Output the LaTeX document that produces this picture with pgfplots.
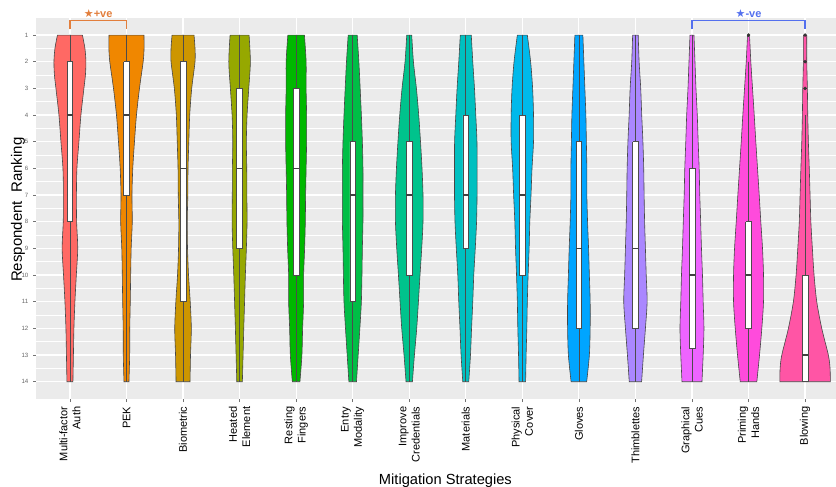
\documentclass[border=0pt]{standalone}
\usepackage{fontspec}
\setmainfont{Liberation Sans}
\newfontfamily\dejavu{DejaVu Sans}
\usepackage{pgfplots}
\pgfplotsset{compat=1.18}
\usepackage{pgfplotstable}
\usepgfplotslibrary{fillbetween}

\definecolor{panelgray}{RGB}{235,235,235}
\definecolor{cA}{RGB}{255,105,100}
\definecolor{cB}{RGB}{240,135,0}
\definecolor{cC}{RGB}{205,150,0}
\definecolor{cD}{RGB}{150,168,0}
\definecolor{cE}{RGB}{0,184,0}
\definecolor{cF}{RGB}{0,190,70}
\definecolor{cG}{RGB}{0,195,140}
\definecolor{cH}{RGB}{0,192,192}
\definecolor{cI}{RGB}{0,185,235}
\definecolor{cJ}{RGB}{0,165,255}
\definecolor{cK}{RGB}{170,135,255}
\definecolor{cL}{RGB}{238,100,255}
\definecolor{cM}{RGB}{255,75,220}
\definecolor{cN}{RGB}{255,85,165}
\definecolor{posorange}{RGB}{226,126,60}
\definecolor{negblue}{RGB}{84,112,238}

% violin half-widths (px) at each rank
\pgfplotstableread{
r w
1 12.5
1.5 15
2 16
2.5 15.5
3 14
4 11
5 9
6 7
7 6.5
8 6.7
9 7.8
10 6.4
11 5
12 4
13 3.5
14 3
}\tA
\pgfplotstableread{
r w
1 17.5
1.5 17.6
2 16.7
3 13
4 10
5 8
6 6.3
7 5.5
8 5.8
9 4.7
10 4.2
11 3.8
12 3.3
13 3.2
14 2.5
}\tB
\pgfplotstableread{
r w
1 11
1.5 12
2 12
3 8.7
4 6.7
5 5.8
6 5
7 4.8
8 4.2
9 4.5
10 5.5
11 7.2
12 8.3
13 7.5
14 7
}\tC
\pgfplotstableread{
r w
1 9.5
2 10.8
3 9.2
4 7.5
5 6.8
6 7.2
7 7.3
8 7.5
9 6.8
10 5.8
11 5
12 4.2
13 3.5
14 2.8
}\tD
\pgfplotstableread{
r w
1 8.3
2 10
3 10
4 10.5
5 10.5
6 10
7 9.5
8 9.2
9 8.5
10 7.5
11 7.5
12 6.5
13 5.8
14 3.8
}\tE
\pgfplotstableread{
r w
1 4.5
2 6.2
3 7.5
4 8.7
5 9.7
6 10.3
7 10.3
8 10.3
9 9.7
10 9.3
11 8.7
12 7.2
13 5.5
14 3.8
}\tF
\pgfplotstableread{
r w
1 2.5
2 4.2
3 7.2
4 9.5
5 11.3
6 12.8
7 13.8
8 13.8
9 12.5
10 10.8
11 9.2
12 7.5
13 5.2
14 3.2
}\tG
\pgfplotstableread{
r w
1 5.5
2 7
3 8.7
4 10
5 11.2
6 11.3
7 11.3
8 10.8
9 9.5
10 8
11 7
12 5.8
13 4.7
14 3
}\tH
\pgfplotstableread{
r w
1 5
2 8.3
3 10.3
4 11.2
5 11.2
6 9.7
7 8.7
8 7.5
9 6.8
10 5.8
11 5
12 4.5
13 3.8
14 3.3
}\tI
\pgfplotstableread{
r w
1 4
2 5
3 6
4 7
5 7.5
6 8
7 8
8 8.7
9 9.7
10 10.5
11 11.3
12 11.3
13 10.5
14 7.8
}\tJ
\pgfplotstableread{
r w
1 2.8
2 3.7
3 5.3
4 6.3
5 7.5
6 8.3
7 8.7
8 9.2
9 10
10 10.8
11 11.7
12 10
13 8
14 6.2
}\tK
\pgfplotstableread{
r w
1 2
2 3
3 4
4 5.3
5 6.2
6 7.2
7 7.8
8 8.7
9 9.5
10 10.5
11 11.2
12 12
13 11.2
14 10
}\tL
\pgfplotstableread{
r w
1 1
2 2.3
3 4
4 5.7
5 7.3
6 9
7 10.7
8 12.3
9 14
10 15
11 15
12 13.3
13 11
14 8.3
}\tM
\pgfplotstableread{
r w
1 1.7
2 1.7
3 2.3
4 2.7
5 3.3
6 4.2
7 5
8 5.8
9 7.3
10 9
11 11.7
12 16.7
13 23.3
13.5 25
14 25.3
}\tN

\newcommand{\violin}[3]{%
  \addplot[name path=R#1, draw=none, smooth, tension=0.5] table[x expr=#1+\thisrow{w}/56.6, y=r]{#2};
  \addplot[name path=L#1, draw=none, smooth, tension=0.5] table[x expr=#1-\thisrow{w}/56.6, y=r]{#2};
  \addplot[fill=#3, draw=black!72, line width=0.45pt] fill between[of=R#1 and L#1, reverse=true];
}
% box: position, lower whisker, Q1, median, Q3, upper whisker
\newcommand{\bx}[6]{%
  \addplot[draw=black!70, line width=0.45pt] table[row sep=\\, x expr=#1, y=r] {r\\ #2\\ #6\\};
  \addplot[fill=white, draw=black!70, line width=0.45pt] table[row sep=\\, x expr=#1+\thisrow{d}, y=r] {d r\\ -0.05 #3\\ 0.05 #3\\ 0.05 #5\\ -0.05 #5\\ -0.05 #3\\};
  \addplot[draw=black!75, line width=1.1pt] table[row sep=\\, x expr=#1+\thisrow{d}, y=r] {d r\\ -0.05 #4\\ 0.05 #4\\};
}

\begin{document}
\begin{tikzpicture}
\begin{axis}[
  at={(0,0)}, anchor=south west,
  scale only axis, width=602.25pt, height=286pt,
  xmin=0.4, xmax=14.6, ymin=0.35, ymax=14.65,
  y dir=reverse,
  clip=false,
  axis background/.style={fill=panelgray},
  axis line style={draw=none},
  xtick={1,...,14},
  xticklabels={{Multi-factor\\Auth},PEK,Biometric,{Heated\\Element},{Resting\\Fingers},{Entry\\Modality},{Improve\\Credentials},Materials,{Physical\\Cover},Gloves,Thimblettes,{Graphical\\Cues},{Priming\\Hands},Blowing},
  xticklabel style={rotate=90, anchor=east, align=right, font=\fontsize{8.25}{9.9}\selectfont, text=black},
  ytick={1,...,14},
  minor ytick={1.5,2.5,...,13.5},
  yticklabel style={font=\fontsize{4.6}{5}\selectfont, text=black!60},
  /pgf/number format/assume math mode=true,
  tick align=outside, tick pos=left,
  major tick length=2.2pt, minor tick length=0pt,
  tick style={black!55, line width=0.5pt},
  xmajorgrids, ymajorgrids, yminorgrids,
  major grid style={white, line width=0.9pt},
  minor grid style={white, line width=0.45pt},
]
\violin{1}{\tA}{cA}
\violin{2}{\tB}{cB}
\violin{3}{\tC}{cC}
\violin{4}{\tD}{cD}
\violin{5}{\tE}{cE}
\violin{6}{\tF}{cF}
\violin{7}{\tG}{cG}
\violin{8}{\tH}{cH}
\violin{9}{\tI}{cI}
\violin{10}{\tJ}{cJ}
\violin{11}{\tK}{cK}
\violin{12}{\tL}{cL}
\violin{13}{\tM}{cM}
\violin{14}{\tN}{cN}

\bx{1}{1}{2}{4}{8}{14}
\bx{2}{1}{2}{4}{7}{14}
\bx{3}{1}{2}{6}{11}{14}
\bx{4}{1}{3}{6}{9}{14}
\bx{5}{1}{3}{6}{10}{14}
\bx{6}{1}{5}{7}{11}{14}
\bx{7}{1}{5}{7}{10}{14}
\bx{8}{1}{4}{7}{9}{14}
\bx{9}{1}{4}{7}{10}{14}
\bx{10}{1}{5}{9}{12}{14}
\bx{11}{1}{5}{9}{12}{14}
\bx{12}{1}{6}{10}{12.75}{14}
\bx{13}{2}{8}{10}{12}{14}
\bx{14}{4}{10}{13}{14}{14}
% outliers
\addplot[only marks, mark=*, mark size=1.1pt, mark options={fill=black!80, draw=black!80}] coordinates {(13,1) (14,1) (14,2) (14,3)};

% significance brackets
\addplot[posorange, line width=1pt] coordinates {(1,0.786) (1,0.464) (2,0.464) (2,0.786)};
\addplot[negblue, line width=1pt] coordinates {(12,0.786) (12,0.464) (14,0.464) (14,0.786)};
\node[text=posorange, font=\fontsize{8.25}{9}\selectfont\bfseries] at (axis cs:1.5,0.2125) {{\dejavu ★}+ve};
\node[text=negblue, font=\fontsize{8.25}{9}\selectfont\bfseries] at (axis cs:13,0.2125) {{\dejavu ★}-ve};

% axis titles
\node[rotate=90, font=\fontsize{11.25}{12}\selectfont] at (axis cs:0.082,7.55) {Respondent\ \ Ranking};
\node[anchor=base, font=\fontsize{11}{12}\selectfont] at (axis cs:7.64,17.84) {Mitigation Strategies};
\end{axis}
\pgfresetboundingbox
\useasboundingbox (-27pt,-65.25pt) rectangle (600pt,299.3pt);
\end{tikzpicture}
\end{document}
